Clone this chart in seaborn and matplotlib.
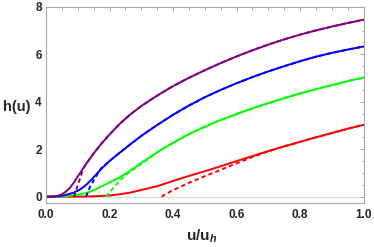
import numpy as np
import pandas as pd
import seaborn as sns
import matplotlib
matplotlib.use("Agg")
import matplotlib.pyplot as plt
from matplotlib.ticker import MultipleLocator

# ---- data ----
u_grid = [0, 0.025, 0.0375, 0.05, 0.0625, 0.075, 0.0875, 0.1, 0.1125, 0.125, 0.1375,
          0.15, 0.175, 0.2, 0.233, 0.265, 0.3, 0.35,
          0.4, 0.45, 0.5, 0.55, 0.6, 0.65, 0.7, 0.75, 0.8, 0.85, 0.9, 0.95, 1.0]

h_purple = [0, 0.01, 0.04, 0.1, 0.21, 0.37, 0.59, 0.85, 1.1, 1.35, 1.59,
            1.82, 2.24, 2.62, 3.08, 3.46, 3.82, 4.26,
            4.66, 5.01, 5.33, 5.63, 5.91, 6.17, 6.41, 6.63, 6.83, 7.01, 7.17, 7.32, 7.46]
h_blue = [0, 0.0, 0.02, 0.04, 0.07, 0.12, 0.17, 0.25, 0.35, 0.48, 0.64,
          0.82, 1.18, 1.5, 1.86, 2.2, 2.56, 3.02,
          3.45, 3.84, 4.19, 4.5, 4.78, 5.04, 5.28, 5.5, 5.71, 5.9, 6.06, 6.2, 6.33]
h_green = [0, 0.0, 0.0, 0.01, 0.02, 0.04, 0.06, 0.08, 0.11, 0.15, 0.2,
           0.27, 0.43, 0.6, 0.82, 1.09, 1.42, 1.87,
           2.27, 2.63, 2.95, 3.23, 3.48, 3.72, 3.94, 4.15, 4.35, 4.53, 4.7, 4.87, 5.02]
h_red = [0, 0, 0, 0, 0, 0, 0, 0, 0.002, 0.005, 0.01,
         0.015, 0.03, 0.05, 0.1, 0.17, 0.28, 0.44,
         0.66, 0.87, 1.07, 1.28, 1.5, 1.71, 1.92, 2.12, 2.31, 2.5, 2.68, 2.86, 3.03]

# dashed (approximations): leading part read separately, then following the solid curves
u_purple_d = [0.088, 0.095, 0.102, 0.11, 0.118] + u_grid[9:]
h_purple_d = [0, 0.28, 0.56, 0.88, 1.2] + h_purple[9:]
u_blue_d = [0.126, 0.139, 0.15, 0.163, 0.175] + u_grid[13:]
h_blue_d = [0, 0.42, 0.68, 0.98, 1.22] + h_blue[13:]
u_green_d = [0.189, 0.2, 0.217, 0.233, 0.25, 0.265, 0.3, 0.35] + u_grid[18:]
h_green_d = [0, 0.18, 0.45, 0.68, 0.9, 1.06, 1.38, 1.86] + h_green[18:]
u_red_d = [0.364, 0.38, 0.4, 0.422, 0.45, 0.5, 0.55, 0.6, 0.65, 0.7] + u_grid[25:]
h_red_d = [0, 0.13, 0.27, 0.41, 0.58, 0.86, 1.13, 1.4, 1.67, 1.91] + h_red[25:]

colors = {"purple": "#800080", "blue": "#0000FF", "green": "#00FF00", "red": "#FF0000"}

sns.set_style("white")
plt.rcParams['font.family'] = ['Liberation Sans', 'DejaVu Sans']
plt.rcParams['mathtext.fontset'] = 'custom'
plt.rcParams['mathtext.bf'] = 'Liberation Sans:bold'
plt.rcParams['mathtext.it'] = 'Liberation Sans:italic:bold'
plt.rcParams['mathtext.rm'] = 'Liberation Sans:bold'

fig = plt.figure(figsize=(3.74, 2.47), dpi=100)
ax = fig.add_axes([0.123, 0.178, 0.849, 0.794])

ax.axhline(0, color="#d9d9d9", lw=0.8, zorder=0)

solid = [("red", h_red), ("green", h_green), ("blue", h_blue), ("purple", h_purple)]
for name, h in solid:
    df = pd.DataFrame({"u": u_grid, "h": h})
    sns.lineplot(data=df, x="u", y="h", ax=ax, color=colors[name], lw=1.4,
                 estimator=None, sort=False, zorder=2)

dashed = [("red", u_red_d, h_red_d), ("green", u_green_d, h_green_d),
          ("blue", u_blue_d, h_blue_d), ("purple", u_purple_d, h_purple_d)]
for name, uu, hh in dashed:
    df = pd.DataFrame({"u": uu, "h": hh})
    sns.lineplot(data=df, x="u", y="h", ax=ax, color=colors[name], lw=1.4,
                 linestyle=(0, (2.2, 1.6)), estimator=None, sort=False, zorder=3)

ax.set_xlim(0, 1.0)
ax.set_ylim(-0.27, 8)
ax.xaxis.set_minor_locator(MultipleLocator(0.05))
ax.yaxis.set_minor_locator(MultipleLocator(0.5))
ax.set_xticks([0, 0.2, 0.4, 0.6, 0.8, 1.0])
ax.set_xticklabels(["0.0", "0.2", "0.4", "0.6", "0.8", "1.0"])
ax.set_yticks([0, 2, 4, 6, 8])
ax.set_yticklabels(["0", "2", "4", "6", "8"])

frame_col = "#a6a6a6"
for s in ax.spines.values():
    s.set_color(frame_col)
    s.set_linewidth(0.8)
ax.tick_params(which="both", direction="in", top=True, right=True, color=frame_col, width=0.7)
ax.tick_params(which="major", length=3.2, labelsize=8.5, pad=3)
ax.tick_params(which="minor", length=1.8)
for lab in ax.get_xticklabels() + ax.get_yticklabels():
    lab.set_fontweight("bold")
ax.tick_params(axis="x", pad=4)

ax.set_xlabel("")
ax.set_ylabel("")
fig.text(0.54, 0.045, r"$\mathbf{u/u}_{\mathit{h}}$", ha="center", va="center", fontsize=11)
fig.text(0.045, 0.567, "h(u)", ha="center", va="center", fontsize=10.5, fontweight="bold")

fig.savefig("out.png", dpi=100)
